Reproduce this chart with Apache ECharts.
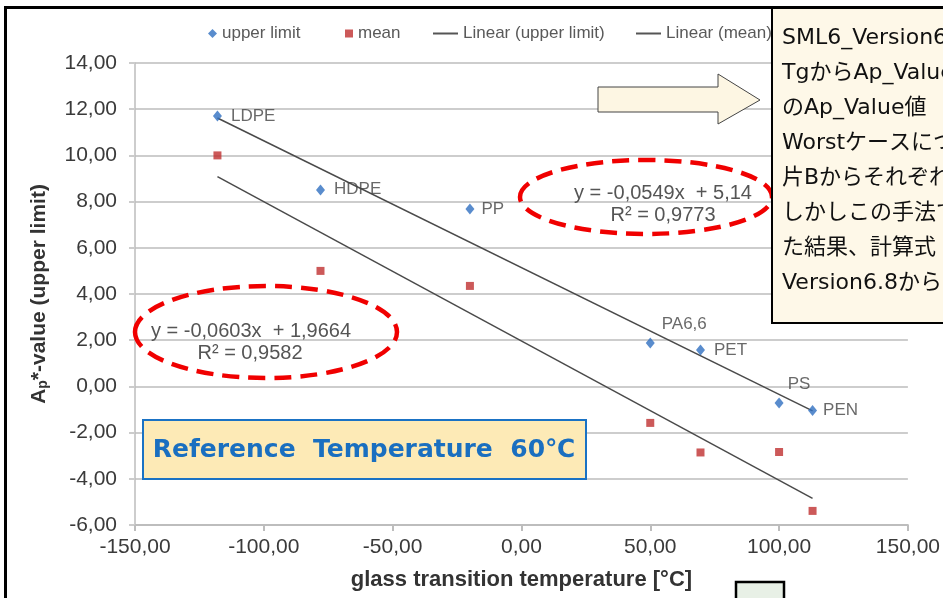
<!DOCTYPE html>
<html>
<head>
<meta charset="utf-8">
<script src="https://cdn.jsdelivr.net/npm/echarts@6/dist/echarts.min.js"></script>
<style>
  html, body { margin: 0; padding: 0; background: #fff; }
  #chart { width: 943px; height: 598px; }
</style>
</head>
<body>
<div id="chart"></div>
<script>
// 材料ごとのデータ (Tg [°C] と Ap*-value)
const polymers = ['LDPE', 'HDPE', 'PP', 'PA6,6', 'PET', 'PS', 'PEN'];
const tg = [-118, -78, -20, 50, 69.5, 100, 113];
const upperLimit = [11.71, 8.5, 7.68, 1.88, 1.58, -0.72, -1.04];
const meanValue = [10.0, 5.0, 4.35, -1.58, -2.86, -2.84, -5.39];

// 近似直線の端点
const upperTrendX = [-118, 113];
const upperTrendY = [11.62, -1.06];
const meanTrendX = [-118, 113];
const meanTrendY = [9.08, -4.85];

// 軸目盛
const xTicks = { min: -150, max: 150, interval: 50 };
const yTicks = { min: -6, max: 14, interval: 2 };

// 吹き出しの文章
const noteLines = [
  'SML6_Version6.8では、',
  'TgからAp_Value値を算出',
  'のAp_Value値',
  'Worstケースについて、',
  '片Bからそれぞれの値を',
  'しかしこの手法で求め',
  'た結果、計算式',
  'Version6.8からは'
];

// ラベル配置 (見た目用)
const labelPlace = [
  { position: 'right', offset: [4, 0] },
  { position: 'right', offset: [4, -1] },
  { position: 'right', offset: [2, 0] },
  { position: 'top', offset: [34, 0] },
  { position: 'right', offset: [4, 0] },
  { position: 'top', offset: [20, 0] },
  { position: 'right', offset: [1, 0] }
];

const fmt = v => v.toFixed(2).replace('.', ',');
const baseFont = 'Liberation Sans, Arial, sans-serif';
const noteFont = 'DejaVu Sans, Noto Sans CJK JP, sans-serif';

const chart = echarts.init(document.getElementById('chart'));

const upperData = tg.map((x, i) => ({
  value: [x, upperLimit[i]],
  label: labelPlace[i]
}));
const meanData = tg.map((x, i) => [x, meanValue[i]]);

// 凡例は項目ごとに位置を決める
const legendText = { fontSize: 17, color: '#595959' };
const makeLegend = (name, left, w, h, icon) => ({
  left: left, top: 20,
  itemWidth: w, itemHeight: h,
  icon: icon,
  textStyle: legendText,
  data: [name]
});

const option = {
  animation: false,
  textStyle: { fontFamily: baseFont },
  legend: [
    makeLegend('upper limit', 203, 9, 9, 'diamond'),
    makeLegend('mean', 340, 8, 8, 'rect'),
    makeLegend('Linear (upper limit)', 428, 25, 2, 'rect'),
    makeLegend('Linear (mean)', 631, 25, 2, 'rect')
  ],
  grid: { left: 135, right: 33, top: 63, bottom: 73 },
  xAxis: {
    type: 'value',
    min: xTicks.min, max: xTicks.max, interval: xTicks.interval,
    name: 'glass transition temperature [°C]',
    nameLocation: 'middle',
    nameGap: 44,
    nameTextStyle: { fontSize: 22, fontWeight: 'bold', color: '#333' },
    axisLine: { onZero: false, lineStyle: { color: '#bdbdbd', width: 2 } },
    axisTick: { show: true, length: 6, lineStyle: { color: '#bdbdbd', width: 2 } },
    axisLabel: { formatter: fmt, fontSize: 21, color: '#3a3a3a', margin: 12 },
    splitLine: { show: false }
  },
  yAxis: {
    type: 'value',
    min: yTicks.min, max: yTicks.max, interval: yTicks.interval,
    name: '{a|A}{s|p}{a|*-value (upper limit)}',
    nameLocation: 'middle',
    nameRotate: 90,
    nameGap: 85,
    nameTextStyle: {
      rich: {
        a: { fontSize: 21, fontWeight: 'bold', color: '#333' },
        s: { fontSize: 14, fontWeight: 'bold', color: '#333', verticalAlign: 'bottom', padding: [8, 0, 0, 0] }
      }
    },
    axisLine: { show: true, onZero: false, lineStyle: { color: '#bdbdbd', width: 1.5 } },
    axisTick: { show: true, length: 6, lineStyle: { color: '#cccccc', width: 2 } },
    axisLabel: { formatter: fmt, fontSize: 21, color: '#3a3a3a', margin: 18 },
    splitLine: { lineStyle: { color: '#cdcdcd', width: 2 } }
  },
  series: [
    {
      name: 'upper limit',
      type: 'scatter',
      symbol: 'diamond',
      symbolSize: [9, 11],
      itemStyle: { color: '#2f6fc0' },
      label: {
        show: true,
        fontSize: 17,
        color: '#444',
        formatter: p => polymers[p.dataIndex]
      },
      data: upperData,
      z: 5
    },
    {
      name: 'mean',
      type: 'scatter',
      symbol: 'rect',
      symbolSize: 8,
      itemStyle: { color: '#bf2f2f' },
      data: meanData,
      z: 5
    },
    {
      name: 'Linear (upper limit)',
      type: 'line',
      symbol: 'none',
      lineStyle: { color: '#4a4a4a', width: 1.5 },
      itemStyle: { color: '#555' },
      data: upperTrendX.map((x, i) => [x, upperTrendY[i]])
    },
    {
      name: 'Linear (mean)',
      type: 'line',
      symbol: 'none',
      lineStyle: { color: '#4a4a4a', width: 1.5 },
      itemStyle: { color: '#555' },
      data: meanTrendX.map((x, i) => [x, meanTrendY[i]])
    }
  ],
  graphic: [
    // 外枠
    {
      type: 'polyline', z: 100,
      shape: { points: [[5.5, 598], [5.5, 7.5], [943, 7.5]] },
      style: { fill: null, stroke: '#000', lineWidth: 3 }
    },
    // 近似式 (右)
    {
      type: 'text', z: 100, x: 663, y: 193,
      style: { text: 'y = -0,0549x  + 5,14', fontSize: 20, fill: '#555', fontFamily: baseFont, align: 'center', verticalAlign: 'middle' }
    },
    {
      type: 'text', z: 100, x: 663, y: 215,
      style: { text: 'R² = 0,9773', fontSize: 20, fill: '#555', fontFamily: baseFont, align: 'center', verticalAlign: 'middle' }
    },
    {
      type: 'ellipse', z: 101,
      shape: { cx: 646, cy: 197, rx: 126, ry: 37 },
      style: { fill: null, stroke: '#f00000', lineWidth: 4.5, lineDash: [17, 9] }
    },
    // 近似式 (左)
    {
      type: 'text', z: 100, x: 251, y: 331,
      style: { text: 'y = -0,0603x  + 1,9664', fontSize: 20, fill: '#555', fontFamily: baseFont, align: 'center', verticalAlign: 'middle' }
    },
    {
      type: 'text', z: 100, x: 250, y: 353,
      style: { text: 'R² = 0,9582', fontSize: 20, fill: '#555', fontFamily: baseFont, align: 'center', verticalAlign: 'middle' }
    },
    {
      type: 'ellipse', z: 101,
      shape: { cx: 266, cy: 332, rx: 131, ry: 46 },
      style: { fill: null, stroke: '#f00000', lineWidth: 4.5, lineDash: [17, 9] }
    },
    // 参照温度の枠
    {
      type: 'rect', z: 100,
      shape: { x: 143, y: 420, width: 443, height: 59 },
      style: { fill: '#fdeab6', stroke: '#1a72c4', lineWidth: 2 }
    },
    {
      type: 'text', z: 101, x: 364, y: 450,
      style: {
        text: 'Reference  Temperature  60℃',
        fontSize: 25, fontWeight: 'bold', fill: '#1a6fc0',
        fontFamily: noteFont, align: 'center', verticalAlign: 'middle'
      }
    },
    // 矢印
    {
      type: 'polygon', z: 100,
      shape: { points: [[598, 87], [718, 87], [718, 74], [760, 100], [718, 124], [718, 112], [598, 112]] },
      style: { fill: '#fdf6e3', stroke: '#444', lineWidth: 1 }
    },
    // 吹き出し
    {
      type: 'rect', z: 110,
      shape: { x: 772, y: 8, width: 200, height: 315 },
      style: { fill: '#fef8e8', stroke: '#000', lineWidth: 2 }
    },
    {
      type: 'text', z: 111, left: 782, top: 21,
      style: {
        text: noteLines.join('\n'),
        fontSize: 22, lineHeight: 35, fill: '#111',
        fontFamily: noteFont
      }
    },
    // 下の小さな枠
    {
      type: 'rect', z: 100,
      shape: { x: 736, y: 582, width: 48, height: 30 },
      style: { fill: '#e8f0e6', stroke: '#000', lineWidth: 2.5 }
    }
  ]
};

chart.setOption(option);
window.addEventListener('resize', () => chart.resize());
</script>
</body>
</html>
